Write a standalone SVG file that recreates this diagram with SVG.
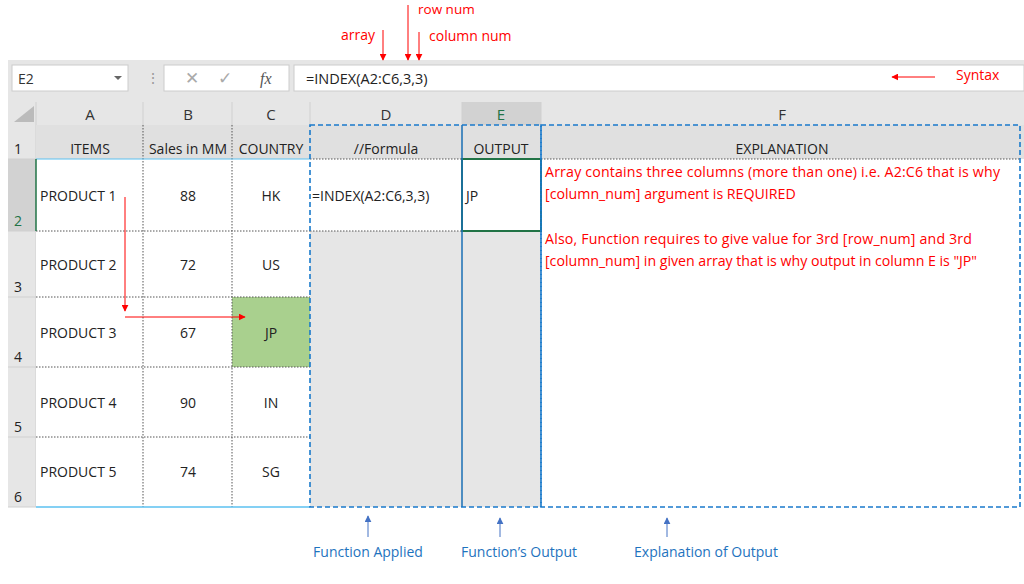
<svg xmlns="http://www.w3.org/2000/svg" width="1024" height="584" viewBox="0 0 1024 584">
<defs>
<style>
text{font-family:"Open Sans","Liberation Sans",sans-serif;font-size:14px;fill:#222}
.h{font-size:14px;fill:#333;text-anchor:middle}
.c{text-anchor:middle}
.r{fill:#f00;font-size:14px}
.e{fill:#f00;font-size:14.2px}
.b{fill:#1e73be;font-size:14px;text-anchor:middle}
.dot{stroke:#555;stroke-width:1;stroke-dasharray:1.5 1.5;fill:none}
.dash{stroke:#1a7acb;stroke-width:1.6;stroke-dasharray:5 3;fill:none}
</style>
<marker id="ra" viewBox="0 0 10 10" refX="9" refY="5" markerWidth="7" markerHeight="7" orient="auto"><path d="M0,0L10,5L0,10z" fill="#f00"/></marker>
<marker id="ba" viewBox="0 0 10 10" refX="9" refY="5" markerWidth="7" markerHeight="7" orient="auto"><path d="M0,0L10,5L0,10z" fill="#4472c4"/></marker>
</defs>
<rect width="1024" height="584" fill="#fff"/>
<g id="excel">
<rect x="8" y="60" width="1016" height="447" fill="#e6e6e6"/>
<rect x="12" y="65" width="116" height="26" fill="#fff" stroke="#ccc"/>
<text x="18" y="84" style="font-size:14px;fill:#333">E2</text>
<path d="M114,76l4,4l4,-4z" fill="#666"/>
<text x="146" y="83" style="fill:#999">⋮</text>
<rect x="164" y="65" width="125" height="26" fill="#fff" stroke="#ccc"/>
<text x="185" y="84" style="fill:#aaa;font-size:17px">✕</text>
<text x="218" y="84" style="fill:#aaa;font-size:17px">✓</text>
<text x="260" y="84" style="fill:#555;font-style:italic;font-family:'Liberation Serif',serif;font-size:16px">fx</text>
<rect x="294" y="65" width="730" height="26" fill="#fff" stroke="#ccc"/>
<text x="306" y="84" style="font-size:14.5px">=INDEX(A2:C6,3,3)</text>
<rect x="8" y="102" width="1016" height="23" fill="#e6e6e6"/>
<rect x="462" y="102" width="79" height="23" fill="#d2d2d2"/>
<path d="M14,122L34,122L34,106z" fill="#bbb"/>
<g stroke="#d0d0d0"><path d="M36,102v23M143,102v23M232,102v23M310,102v23M462,102v23M541,102v23M36,125v382"/></g>
<text class="h" x="90" y="120" style="font-size:15px">A</text><text class="h" x="188" y="120" style="font-size:15px">B</text><text class="h" x="271" y="120" style="font-size:15px">C</text><text class="h" x="386" y="120" style="font-size:15px">D</text><text class="h" x="501" y="120" style="fill:#217346;font-size:15px">E</text><text class="h" x="782" y="120" style="font-size:15px">F</text>
<rect x="8" y="159" width="28" height="72" fill="#d2d2d2"/>
<text x="14" y="154">1</text><text x="14" y="226" style="fill:#217346">2</text><text x="14" y="292">3</text><text x="14" y="362">4</text><text x="14" y="432">5</text><text x="14" y="502">6</text>
<g stroke="#d0d0d0"><path d="M8,159h28M8,231h28M8,297h28M8,367h28M8,437h28M8,507h28"/></g>
<rect x="36" y="125" width="988" height="34" fill="#e0e0e0"/>
<rect x="36" y="159" width="274" height="348" fill="#fff"/>
<rect x="310" y="159" width="152" height="72" fill="#fff"/>
<rect x="462" y="159" width="79" height="72" fill="#fff"/>
<rect x="541" y="159" width="483" height="348" fill="#fff"/>
<rect x="232" y="297" width="78" height="70" fill="#a9d08e"/>
<path class="dot" d="M143,125V507M232,125V507M36,231H310M36,297H310M36,367H310M36,437H310M310,231H462M310,159H1020"/>
<path d="M36,159H310" stroke="#5bc0f0" stroke-width="1"/>
<path d="M36,507H310" stroke="#5bc0f0" stroke-width="1.5"/>
<path d="M36,159V231" stroke="#217346" stroke-width="1.5"/>
<rect x="462" y="159" width="79" height="72" fill="none" stroke="#217346" stroke-width="2"/>
<path d="M462,125V507" stroke="#1a6fb5" stroke-width="1.5"/>
<rect x="310" y="125" width="231" height="382" class="dash"/>
<rect x="541" y="125" width="479" height="382" class="dash"/>
</g>
<g id="cells">
<text class="c" x="90" y="154">ITEMS</text><text class="c" x="188" y="154">Sales in MM</text><text class="c" x="271" y="154">COUNTRY</text><text class="c" x="386" y="154">//Formula</text><text class="c" x="501" y="154">OUTPUT</text><text class="c" x="782" y="154">EXPLANATION</text>
<text x="40" y="201">PRODUCT 1</text><text x="40" y="270">PRODUCT 2</text><text x="40" y="338">PRODUCT 3</text><text x="40" y="408">PRODUCT 4</text><text x="40" y="477">PRODUCT 5</text>
<text class="c" x="188" y="201">88</text><text class="c" x="188" y="270">72</text><text class="c" x="188" y="338">67</text><text class="c" x="188" y="408">90</text><text class="c" x="188" y="477">74</text>
<text class="c" x="271" y="201">HK</text><text class="c" x="271" y="270">US</text><text class="c" x="271" y="338">JP</text><text class="c" x="271" y="408">IN</text><text class="c" x="271" y="477">SG</text>
<text x="312" y="201">=INDEX(A2:C6,3,3)</text>
<text x="466" y="201">JP</text>
<text class="e" x="545" y="177" textLength="455">Array contains three columns (more than one) i.e. A2:C6 that is why</text>
<text class="e" x="545" y="199">[column_num] argument is REQUIRED</text>
<text class="e" x="545" y="244" textLength="427">Also, Function requires to give value for 3rd [row_num] and 3rd</text>
<text class="e" x="545" y="266" textLength="432">[column_num] in given array that is why output in column E is "JP"</text>
</g>
<g id="labels">
<text class="r" x="341" y="40">array</text>
<text class="r" x="418" y="14" style="font-size:13.5px">row num</text>
<text class="r" x="429" y="41">column num</text>
<text class="r" x="956" y="80">Syntax</text>
<text class="b" x="368" y="557">Function Applied</text>
<text class="b" x="519" y="557">Function’s Output</text>
<text class="b" x="706" y="557">Explanation of Output</text>
</g>
<g id="connectors" stroke-width="1">
<path d="M383,30V60" stroke="#f00" marker-end="url(#ra)"/>
<path d="M408,5V60" stroke="#f00" marker-end="url(#ra)"/>
<path d="M419,32V60" stroke="#f00" marker-end="url(#ra)"/>
<path d="M935,77H892" stroke="#f00" marker-end="url(#ra)"/>
<path d="M125,197V311" stroke="#f00" marker-end="url(#ra)"/>
<path d="M125,317H245" stroke="#f00" marker-end="url(#ra)"/>
<path d="M368,537V516" stroke="#4472c4" marker-end="url(#ba)"/>
<path d="M500,537V518" stroke="#4472c4" marker-end="url(#ba)"/>
<path d="M667,537V518" stroke="#4472c4" marker-end="url(#ba)"/>
</g>
</svg>
